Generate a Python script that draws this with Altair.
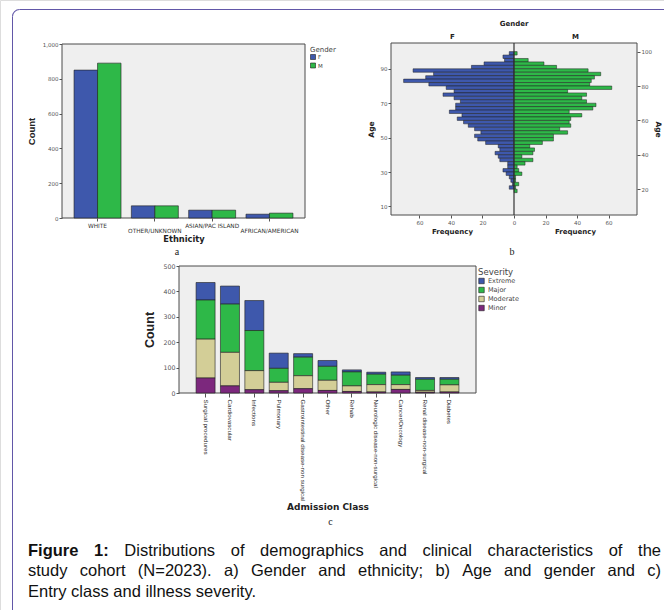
import altair as alt
import pandas as pd

# ================= values =================
# (a) ethnicity by gender
ethnicity = ["WHITE", "OTHER/UNKNOWN", "ASIAN/PAC ISLAND", "AFRICAN/AMERICAN"]
ethnicity_f = [850, 70, 45, 22]
ethnicity_m = [890, 70, 45, 28]

# (b) age pyramid, 2-year bins (lower edge), top to bottom
age_bin_lo = [98, 96, 94, 92, 90, 88, 86, 84, 82, 80, 78, 76, 74, 72, 70, 68, 66, 64, 62, 60,
              58, 56, 54, 52, 50, 48, 46, 44, 42, 40, 38, 36, 34, 32, 30, 28, 26, 24, 22, 20, 18]
age_bin_width = 2
age_freq_f = [3, 7, 6, 19, 27, 64, 51, 56, 70, 54, 43, 38, 45, 38, 34, 37, 37, 41, 33, 36,
              32, 29, 25, 21, 25, 23, 18, 10, 9, 12, 10, 9, 4, 4, 7, 5, 3, 2, 1, 3, 0]
age_freq_m = [2, 0, 9, 19, 27, 47, 55, 51, 49, 48, 62, 34, 46, 43, 46, 52, 50, 35, 43, 36,
              35, 36, 29, 34, 25, 25, 18, 10, 13, 12, 5, 12, 7, 2, 3, 5, 1, 1, 3, 1, 2]

# (c) admission class by severity
admission_class = ["Surgical procedures", "Cardiovascular", "Infections", "Pulmonary",
                   "Gastrointestinal disease-non surgical", "Other", "Rehab",
                   "Neurologic disease-non-surgical", "Cancer/Oncology",
                   "Renal disease-non-surgical", "Diabetes"]
severity_levels = ["Extreme", "Major", "Moderate", "Minor"]
sev_extreme = [69, 71, 118, 60, 14, 23, 8, 8, 13, 7, 7]
sev_major = [154, 190, 158, 55, 73, 55, 55, 41, 37, 44, 22]
sev_moderate = [153, 132, 75, 33, 51, 40, 22, 29, 19, 7, 28]
sev_minor = [59, 28, 13, 9, 17, 10, 6, 4, 14, 3, 4]

caption_bold = "Figure 1:"
caption_line1 = "Distributions of demographics and clinical characteristics of the"
caption_line2 = "study cohort (N=2023). a) Gender and ethnicity; b) Age and gender and c)"
caption_line3 = "Entry class and illness severity."

# ================= styling / layout (pixels on the 664x610 page) =================
W, H = 664, 610
BLUE, GREEN, TAN, PURPLE = "#3e58ac", "#2eb848", "#d3ce97", "#7c287d"
FRAME = "#6257a8"
AXF = "DejaVu Sans"
NARROW = "Liberation Sans Narrow, Liberation Sans"
LBL = "#444444"
EDGE = "#1e1e1e"
PANEL_FILL, PANEL_STROKE = "#efefef", "#4a4a4a"

A_X0, A_X1, A_Y0, A_Y1 = 62, 305, 44, 218      # plot a (left, right, top, bottom)
B_X0, B_X1, B_Y0, B_Y1 = 391, 637, 43, 215     # plot b
C_X0, C_X1, C_Y0, C_Y1 = 179, 476, 266, 393    # plot c

one = pd.DataFrame({"t": [""]})


def label(text, x, y, size=10, font="Liberation Serif", weight="normal", color="#222"):
    return alt.Chart(pd.DataFrame({"t": [text]})).mark_text(
        font=font, fontSize=size, fontWeight=weight, color=color,
        align="center", baseline="middle").encode(
        text="t:N", x=alt.value(x), y=alt.value(y))


def panel(x0, x1, y0, y1):
    return alt.Chart(one).mark_rect(fill=PANEL_FILL, stroke=PANEL_STROKE, strokeWidth=1).encode(
        x=alt.value(x0), x2=alt.value(x1), y=alt.value(y0), y2=alt.value(y1))


def tick_axis(orient, offset, **kw):
    base = dict(orient=orient, offset=offset, grid=False, domain=False, labelFont=AXF,
                labelColor="#555", tickColor="#555", titleColor="#222")
    base.update(kw)
    return alt.Axis(**base)


# ---------------- (a) ----------------
dfa = pd.DataFrame({"Ethnicity": ethnicity * 2,
                    "Gender": ["F"] * len(ethnicity) + ["M"] * len(ethnicity),
                    "Count": ethnicity_f + ethnicity_m})
stagger = ("indexof(['OTHER/UNKNOWN','AFRICAN/AMERICAN'], datum.value) >= 0 "
           "? ['', datum.label] : datum.label")

a_bars = alt.Chart(dfa).mark_bar(stroke=EDGE, strokeWidth=0.6).encode(
    x=alt.X("Ethnicity:N", sort=ethnicity,
            scale=alt.Scale(range=[A_X0, A_X1], paddingInner=0.18, paddingOuter=0.21),
            axis=tick_axis("bottom", A_Y1 - H, title="Ethnicity", labelAngle=0,
                           labelExpr=stagger, labelFontSize=5.8, labelColor="#333",
                           labelLineHeight=5.2, labelPadding=1, labelOverlap=False,
                           tickSize=3, titleFont=AXF, titleFontSize=8.3,
                           titleFontWeight="bold", titleY=21, titleBaseline="middle")),
    xOffset=alt.XOffset("Gender:N", scale=alt.Scale(paddingInner=0, paddingOuter=0)),
    y=alt.Y("Count:Q", scale=alt.Scale(domain=[0, 1000], range=[A_Y1, A_Y0], nice=False),
            axis=tick_axis("left", -A_X0, values=[0, 200, 400, 600, 800, 1000], format=",d",
                           labelFontSize=5.5, tickSize=3, labelPadding=1, title="Count",
                           titleFont=NARROW, titleFontSize=9.5, titleFontWeight="bold",
                           titleX=-31, titleBaseline="middle")),
    color=alt.Color("Gender:N", scale=alt.Scale(domain=["F", "M"], range=[BLUE, GREEN]),
                    legend=alt.Legend(orient="none", legendX=A_X1 + 5, legendY=46,
                                      title="Gender", titleFont=AXF, titleFontSize=7,
                                      titleFontWeight="normal", titleColor=LBL, titlePadding=1,
                                      labelFont=AXF, labelFontSize=5.5, labelColor=LBL,
                                      symbolType="square", symbolSize=25,
                                      symbolStrokeColor=EDGE, symbolStrokeWidth=0.6,
                                      rowPadding=0.5, labelOffset=2, padding=0)),
)

# ---------------- (b) ----------------
n_bins = len(age_bin_lo)
dfb = pd.DataFrame({"lo": age_bin_lo * 2,
                    "Gender": ["F"] * n_bins + ["M"] * n_bins,
                    "n": age_freq_f + age_freq_m})
dfb["hi"] = dfb["lo"] + age_bin_width
dfb["signed"] = dfb["n"].where(dfb["Gender"] == "M", -dfb["n"])
dfb = dfb[dfb["n"] > 0]


def pyramid(gender, color, orient, ticks, title_x, with_x_axis):
    y_off = -B_X0 if orient == "left" else B_X1 - W
    x_axis = tick_axis("bottom", B_Y1 - H, values=[-60, -40, -20, 0, 20, 40, 60],
                       labelExpr="format(abs(datum.value), 'd')", labelFontSize=5.5,
                       tickSize=3, labelPadding=2, title=None) if with_x_axis else None
    return alt.Chart(dfb[dfb["Gender"] == gender]).mark_rect(
        fill=color, stroke=EDGE, strokeWidth=0.5).encode(
        x=alt.X("signed:Q", scale=alt.Scale(domain=[-78, 78], range=[B_X0, B_X1], nice=False),
                axis=x_axis),
        x2=alt.X2(datum=0),
        y=alt.Y("lo:Q", scale=alt.Scale(domain=[5, 105], range=[B_Y1, B_Y0], nice=False,
                                        zero=False),
                axis=tick_axis(orient, y_off, values=ticks, labelFontSize=5.5, tickSize=3,
                               labelPadding=1, title="Age", titleFont=AXF,
                               titleFontSize=7.5, titleFontWeight="bold", titleX=title_x,
                               titleBaseline="middle")),
        y2="hi:Q",
    )


B_MID = (B_X0 + B_X1) / 2
zero_line = alt.Chart(one).mark_rule(color="#333333", strokeWidth=1.2).encode(
    x=alt.value(B_MID), y=alt.value(B_Y0), y2=alt.value(B_Y1))

# ---------------- (c) ----------------
rank = {"Minor": 1, "Moderate": 2, "Major": 3, "Extreme": 4}
series = {"Extreme": sev_extreme, "Major": sev_major, "Moderate": sev_moderate, "Minor": sev_minor}
crow = []
for lvl in severity_levels:
    for cls, v in zip(admission_class, series[lvl]):
        crow.append({"Class": cls, "Severity": lvl, "Count": v, "rank": rank[lvl]})
dfc = pd.DataFrame(crow)

c_bars = alt.Chart(dfc).mark_bar(stroke=EDGE, strokeWidth=0.6).encode(
    x=alt.X("Class:N", sort=admission_class,
            scale=alt.Scale(range=[C_X0, C_X1], paddingInner=0.22, paddingOuter=0.7),
            axis=tick_axis("bottom", C_Y1 - H, labelAngle=90, labelAlign="left",
                           labelBaseline="middle", labelFont=NARROW, labelFontSize=6.2,
                           labelColor="#222", labelOverlap=False, labelLimit=0,
                           labelPadding=2, tickSize=4, title="Admission Class",
                           titleFont=AXF, titleFontSize=9, titleFontWeight="bold",
                           titleY=113, titleBaseline="middle")),
    y=alt.Y("Count:Q", stack="zero",
            scale=alt.Scale(domain=[0, 500], range=[C_Y1, C_Y0], nice=False),
            axis=tick_axis("left", -C_X0, values=[0, 100, 200, 300, 400, 500],
                           labelFontSize=6.3, tickSize=3, labelPadding=1, title="Count",
                           titleFont=NARROW, titleFontSize=12.5, titleFontWeight="bold",
                           titleX=-30, titleBaseline="middle")),
    color=alt.Color("Severity:N",
                    scale=alt.Scale(domain=severity_levels, range=[BLUE, GREEN, TAN, PURPLE]),
                    legend=alt.Legend(orient="none", legendX=C_X1 + 2, legendY=268,
                                      title="Severity", titleFont=AXF, titleFontSize=8.5,
                                      titleFontWeight="normal", titleColor=LBL, titlePadding=1,
                                      labelFont=AXF, labelFontSize=6.5, labelColor=LBL,
                                      symbolType="square", symbolSize=30,
                                      symbolStrokeColor=EDGE, symbolStrokeWidth=0.6,
                                      rowPadding=0, labelOffset=3, padding=0)),
    order=alt.Order("rank:Q", sort="ascending"),
)

# ---------------- caption + frame ----------------
ARIAL = {" ": 278, "(": 333, ")": 333, ".": 278, ";": 278, ":": 278, "=": 584,
         "a": 556, "b": 556, "c": 500, "d": 556, "e": 556, "f": 278, "g": 556, "h": 556,
         "i": 222, "j": 222, "k": 500, "l": 222, "m": 833, "n": 556, "o": 556, "p": 556,
         "q": 556, "r": 333, "s": 500, "t": 278, "u": 556, "v": 500, "w": 722, "x": 500,
         "y": 500, "z": 500, "A": 667, "D": 722, "E": 667, "F": 611, "G": 778, "N": 722}
ARIAL_B = {"F": 611, "i": 278, "g": 611, "u": 611, "r": 389, "e": 556, ":": 333}
CAP_SIZE = 16.5
CAP_X0, CAP_X1 = 28, 661
CAP_BASE = [556, 576, 597]


def tw(s, bold):
    tab = ARIAL_B if bold else ARIAL
    return sum(tab.get(ch, 556) for ch in s) * CAP_SIZE / 1000.0


lines = [
    ([(w, True) for w in caption_bold.split(" ")] +
     [(w, False) for w in caption_line1.split(" ")], True),
    ([(w, False) for w in caption_line2.split(" ")], True),
    ([(w, False) for w in caption_line3.split(" ")], False),
]
wrows = []
for li, (words, justify) in enumerate(lines):
    widths = [tw(w, b) for w, b in words]
    gap = ((CAP_X1 - CAP_X0 - sum(widths)) / (len(words) - 1)) if justify else tw(" ", False)
    xpos = CAP_X0
    for (w, b), wd in zip(words, widths):
        wrows.append({"word": w, "bold": b, "px": xpos, "py": CAP_BASE[li]})
        xpos += wd + gap
dfw = pd.DataFrame(wrows)


def words_layer(bold):
    return alt.Chart(dfw[dfw["bold"] == bold]).mark_text(
        font="Liberation Sans", fontSize=CAP_SIZE, fontWeight="bold" if bold else "normal",
        color="#111", align="left", baseline="alphabetic").encode(
        text="word:N",
        x=alt.X("px:Q", scale=None, axis=None),
        y=alt.Y("py:Q", scale=None, axis=None))


R = 7
FX, FY = 12.5, 9.5
frame_top = alt.Chart(one).mark_rule(color=FRAME, strokeWidth=1).encode(
    x=alt.value(FX + R), x2=alt.value(W), y=alt.value(FY))
frame_left = alt.Chart(one).mark_rule(color=FRAME, strokeWidth=1).encode(
    x=alt.value(FX), y=alt.value(FY + R), y2=alt.value(H))
frame_corner = alt.Chart(one).mark_arc(innerRadius=R - 0.5, outerRadius=R + 0.5,
                                       color=FRAME).encode(
    theta=alt.value(4.712389), theta2=alt.value(6.283185),
    x=alt.value(FX + R), y=alt.value(FY + R))

# ---------------- assemble: one page-sized view ----------------
chart = alt.layer(
    frame_top, frame_left, frame_corner,
    panel(A_X0, A_X1, A_Y0, A_Y1), panel(B_X0, B_X1, B_Y0, B_Y1), panel(C_X0, C_X1, C_Y0, C_Y1),
    a_bars,
    pyramid("F", BLUE, "left", [10, 30, 50, 70, 90], -19.5, True),
    pyramid("M", GREEN, "right", [20, 40, 60, 80, 100], 20, False),
    zero_line,
    c_bars,
    label("a", 177, 252),
    label("Gender", B_MID, 24, size=7, font=AXF, weight="bold"),
    label("F", (B_X0 + B_MID) / 2, 37, size=7, font=AXF, weight="bold"),
    label("M", (B_MID + B_X1) / 2, 37, size=7, font=AXF, weight="bold"),
    label("Frequency", (B_X0 + B_MID) / 2, 232, size=7, font=AXF, weight="bold"),
    label("Frequency", (B_MID + B_X1) / 2, 232, size=7, font=AXF, weight="bold"),
    label("b", B_MID - 2, 252),
    label("c", (C_X0 + C_X1) / 2 + 3, 522),
    words_layer(True), words_layer(False),
).resolve_scale(
    x="independent", y="independent", color="independent"
).resolve_axis(
    x="independent", y="independent"
).properties(
    width=W, height=H, padding=0, autosize=alt.AutoSizeParams(type="none")
).configure_view(strokeWidth=0).configure(background="white")

chart.save("out.html", embed_options={"renderer": "svg", "actions": False})
